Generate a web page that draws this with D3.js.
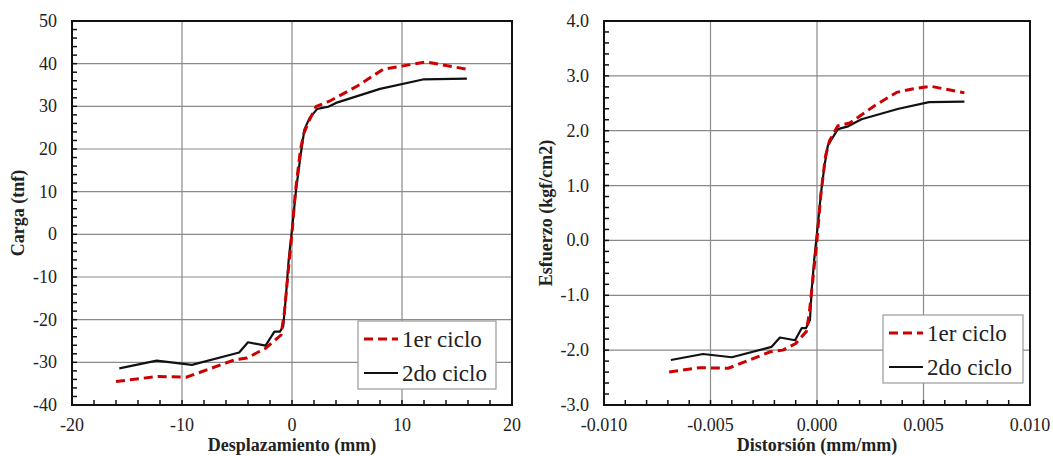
<!DOCTYPE html>
<html>
<head>
<meta charset="utf-8">
<script src="https://cdn.jsdelivr.net/npm/d3@7"></script>
<style>
  body { margin: 0; background: #fff; }
</style>
</head>
<body>
<div id="chart"></div>
<script>
// Carga vs desplazamiento (left)
const despX1 = [-16.0, -12.2, -9.6, -5.2, -4.1, -2.4, -1.0, -0.7, -0.3, 0.0, 0.3, 0.77, 1.1, 1.6, 2.2, 3.4, 5.9, 8.3, 9.9, 12.2, 15.9];
const cargaY1 = [-34.5, -33.3, -33.5, -29.4, -29.0, -26.7, -23.6, -18.5, -7.5, 0.3, 9.7, 19.9, 23.8, 26.9, 30.0, 31.2, 34.7, 38.7, 39.4, 40.4, 38.7];
const despX2 = [-15.7, -12.3, -9.1, -4.8, -4.0, -2.4, -1.6, -1.1, -0.8, -0.55, -0.3, 0.0, 0.37, 0.77, 1.13, 1.6, 2.3, 3.3, 4.0, 8.0, 11.9, 15.9];
const cargaY2 = [-31.4, -29.6, -30.6, -27.7, -25.3, -26.1, -22.8, -22.8, -21.6, -14.5, -5.9, 1.1, 10.5, 18.3, 24.6, 27.3, 29.4, 29.9, 30.8, 34.1, 36.3, 36.5];

// Esfuerzo vs distorsion (right)
const distX1 = [-0.00694, -0.00551, -0.00416, -0.00219, -0.00160, -0.00100, -0.00050, -0.00036, -0.00021, 0.0, 0.00019, 0.00040, 0.00059, 0.00098, 0.00154, 0.00272, 0.00375, 0.00447, 0.00534, 0.00692];
const esfY1 = [-2.40, -2.32, -2.33, -2.03, -2.00, -1.88, -1.66, -1.32, -0.77, 0.02, 0.87, 1.54, 1.82, 2.09, 2.14, 2.46, 2.70, 2.76, 2.81, 2.69];
const distX2 = [-0.00686, -0.00535, -0.00400, -0.00213, -0.00174, -0.00103, -0.00072, -0.00052, -0.00033, -0.00025, -0.00013, 0.0, 0.00019, 0.00035, 0.00051, 0.00098, 0.00146, 0.00209, 0.00383, 0.00526, 0.00692];
const esfY2 = [-2.18, -2.07, -2.13, -1.94, -1.77, -1.82, -1.60, -1.60, -1.45, -0.90, -0.35, 0.14, 0.87, 1.36, 1.73, 2.03, 2.08, 2.21, 2.40, 2.52, 2.53];

const seriesNames = ["1er ciclo", "2do ciclo"];

const leftXTicks = [-20, -10, 0, 10, 20];
const leftYTicks = [-40, -30, -20, -10, 0, 10, 20, 30, 40, 50];
const rightXTicks = [-0.010, -0.005, 0.000, 0.005, 0.010];
const rightYTicks = [-3, -2, -1, 0, 1, 2, 3, 4];

const FONT = "'Liberation Serif', 'Times New Roman', 'DejaVu Serif', serif";

const svg = d3.select("#chart").append("svg")
    .attr("width", 1053)
    .attr("height", 456)
    .attr("font-family", FONT);

function drawPanel(opts) {
    const { left, top, width, height, xDomain, yDomain, xTicks, yTicks, xMinor, yMinor,
            xFmt, yFmt, xTitle, yTitle, s1, s2, legend, yTitleX } = opts;

    const x = d3.scaleLinear().domain(xDomain).range([left, left + width]);
    const y = d3.scaleLinear().domain(yDomain).range([top + height, top]);

    const g = svg.append("g");

    // gridlines
    g.selectAll(".vgrid")
        .data(xTicks.slice(1, -1))
        .enter().append("line")
        .attr("x1", d => x(d)).attr("x2", d => x(d))
        .attr("y1", top).attr("y2", top + height)
        .attr("stroke", "#8a8a8a").attr("stroke-width", 1.2);
    g.selectAll(".hgrid")
        .data(yTicks.slice(1, -1))
        .enter().append("line")
        .attr("x1", left).attr("x2", left + width)
        .attr("y1", d => y(d)).attr("y2", d => y(d))
        .attr("stroke", "#8a8a8a").attr("stroke-width", 1.2);

    // minor ticks (inside)
    const xm = d3.range(xDomain[0], xDomain[1] + xMinor / 2, xMinor);
    const ym = d3.range(yDomain[0], yDomain[1] + yMinor / 2, yMinor);
    g.selectAll(".xm")
        .data(xm)
        .enter().append("line")
        .attr("x1", d => x(d)).attr("x2", d => x(d))
        .attr("y1", top + height).attr("y2", top + height - 5)
        .attr("stroke", "#111").attr("stroke-width", 1.5);
    g.selectAll(".ym")
        .data(ym)
        .enter().append("line")
        .attr("x1", left).attr("x2", left + 5)
        .attr("y1", d => y(d)).attr("y2", d => y(d))
        .attr("stroke", "#111").attr("stroke-width", 1.5);

    // frame
    g.append("rect")
        .attr("x", left).attr("y", top)
        .attr("width", width).attr("height", height)
        .attr("fill", "none")
        .attr("stroke", "#111").attr("stroke-width", 2);

    // tick labels
    g.selectAll(".xl")
        .data(xTicks)
        .enter().append("text")
        .attr("x", d => x(d))
        .attr("y", top + height + 26)
        .attr("text-anchor", "middle")
        .attr("font-family", FONT)
        .attr("fill", "#222")
        .style("font-size", "18px")
        .text(xFmt);
    g.selectAll(".yl")
        .data(yTicks)
        .enter().append("text")
        .attr("x", left - 15)
        .attr("y", d => y(d) + 6)
        .attr("text-anchor", "end")
        .attr("font-family", FONT)
        .attr("fill", "#222")
        .style("font-size", "18px")
        .text(yFmt);

    // axis titles
    g.append("text")
        .attr("x", left + width / 2)
        .attr("y", 451)
        .attr("text-anchor", "middle")
        .attr("font-family", FONT)
        .attr("fill", "#222")
        .style("font-size", "18px")
        .style("font-weight", "bold")
        .text(xTitle);
    g.append("text")
        .attr("transform", `translate(${yTitleX},${top + height / 2}) rotate(-90)`)
        .attr("text-anchor", "middle")
        .attr("font-family", FONT)
        .attr("fill", "#222")
        .style("font-size", "18px")
        .style("font-weight", "bold")
        .text(yTitle);

    // curves
    const line = d3.line().x(d => x(d[0])).y(d => y(d[1]));
    g.append("path")
        .datum(d3.zip(s2[0], s2[1]))
        .attr("d", line)
        .attr("fill", "none")
        .attr("stroke", "#111")
        .attr("stroke-width", 2.2)
        .attr("stroke-linejoin", "round");
    g.append("path")
        .datum(d3.zip(s1[0], s1[1]))
        .attr("d", line)
        .attr("fill", "none")
        .attr("stroke", "#cc0000")
        .attr("stroke-width", 3)
        .attr("stroke-dasharray", "9,5");

    // legend
    const lg = g.append("g").attr("transform", `translate(${legend.x},${legend.y})`);
    lg.append("rect")
        .attr("width", legend.w).attr("height", legend.h)
        .attr("fill", "#fff")
        .attr("stroke", "#9a9a9a").attr("stroke-width", 1.2);
    const styles = [
        { stroke: "#cc0000", width: 3, dash: "9,5" },
        { stroke: "#111", width: 2.2, dash: null }
    ];
    seriesNames.forEach((name, i) => {
        const cy = 18 + i * 34;
        lg.append("line")
            .attr("x1", 6).attr("x2", 40)
            .attr("y1", cy).attr("y2", cy)
            .attr("stroke", styles[i].stroke)
            .attr("stroke-width", styles[i].width)
            .attr("stroke-dasharray", styles[i].dash);
        lg.append("text")
            .attr("x", 44)
            .attr("y", cy + 8)
            .attr("font-family", FONT)
            .attr("fill", "#222")
            .style("font-size", "23px")
            .text(name);
    });
}

drawPanel({
    left: 72, top: 21, width: 440, height: 384,
    xDomain: [-20, 20], yDomain: [-40, 50],
    xTicks: leftXTicks, yTicks: leftYTicks, xMinor: 2, yMinor: 2,
    xFmt: d => d3.format("d")(d).replace("−", "-"),
    yFmt: d => d3.format("d")(d).replace("−", "-"),
    xTitle: "Desplazamiento (mm)", yTitle: "Carga (tnf)", yTitleX: 24,
    s1: [despX1, cargaY1], s2: [despX2, cargaY2],
    legend: { x: 358, y: 321, w: 138, h: 68 }
});

drawPanel({
    left: 604, top: 21, width: 426, height: 384,
    xDomain: [-0.010, 0.010], yDomain: [-3, 4],
    xTicks: rightXTicks, yTicks: rightYTicks, xMinor: 0.001, yMinor: 0.2,
    xFmt: d => d3.format(".3f")(d).replace("−", "-"),
    yFmt: d => d3.format(".1f")(d).replace("−", "-"),
    xTitle: "Distorsión (mm/mm)", yTitle: "Esfuerzo (kgf/cm2)", yTitleX: 552,
    s1: [distX1, esfY1], s2: [distX2, esfY2],
    legend: { x: 883, y: 315, w: 140, h: 68 }
});
</script>
</body>
</html>
